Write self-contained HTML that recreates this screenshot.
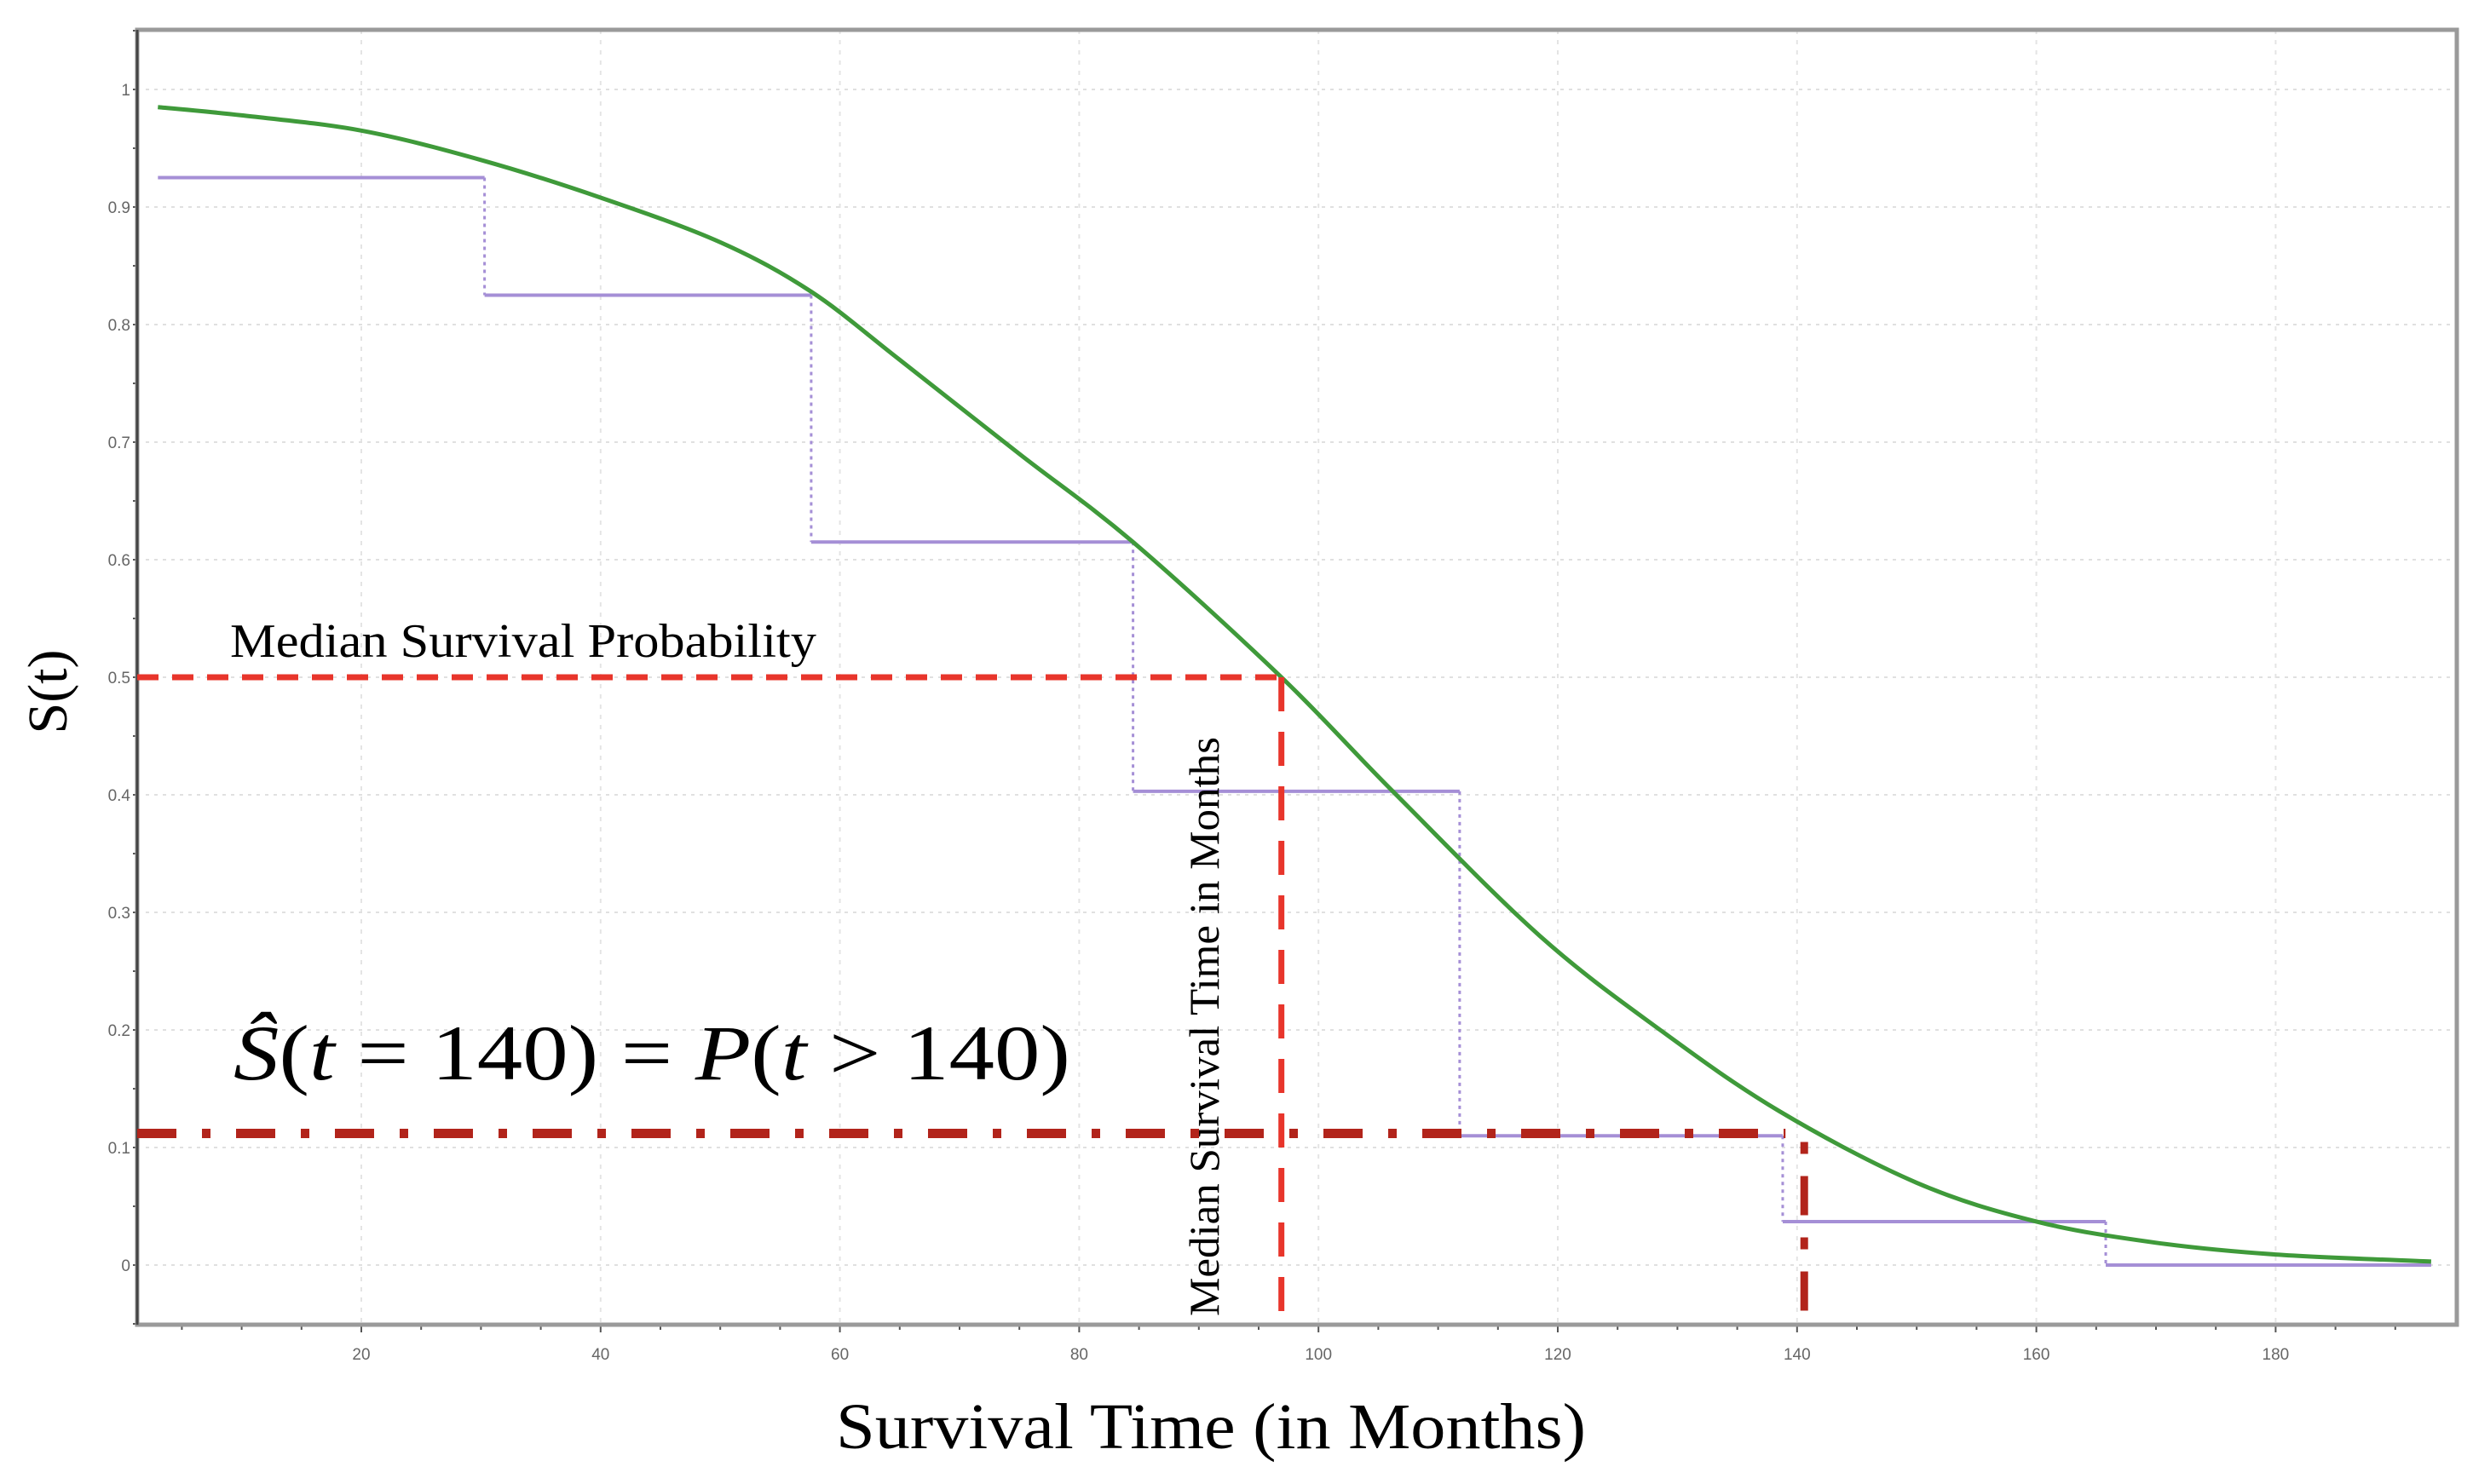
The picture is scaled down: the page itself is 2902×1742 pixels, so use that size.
<!DOCTYPE html>
<html><head><meta charset="utf-8">
<style>
html,body{margin:0;padding:0;background:#fff;}
svg{display:block;}
text{font-family:"Liberation Serif","DejaVu Serif",serif;}
.tick{font-family:"Liberation Sans",sans-serif;font-size:19px;fill:#666;}
</style></head>
<body>
<svg id="chart" width="2902" height="1742" viewBox="0 0 2902 1742" xmlns="http://www.w3.org/2000/svg">
  <rect x="0" y="0" width="2902" height="1742" fill="#fff"/>
  <g id="grid"></g>
  <g id="axes"></g>
  <g id="marks"></g>
  <text x="0" y="0" font-size="66" transform="translate(78,812) rotate(-90)" text-anchor="middle">S(t)</text>
  <text x="981" y="1700" font-size="76" textLength="880" lengthAdjust="spacingAndGlyphs">Survival Time (in Months)</text>
  <text x="270" y="771" font-size="56" textLength="688" lengthAdjust="spacingAndGlyphs">Median Survival Probability</text>
  <text x="0" y="0" font-size="50" transform="translate(1430,1545) rotate(-90)" textLength="680" lengthAdjust="spacingAndGlyphs">Median Survival Time in Months</text>
  <text x="274" y="1267" font-size="92" textLength="982" lengthAdjust="spacingAndGlyphs"><tspan font-style="italic">Ŝ</tspan>(<tspan font-style="italic">t</tspan> = 140) = <tspan font-style="italic">P</tspan>(<tspan font-style="italic">t</tspan> &gt; 140)</text>
</svg>
<script>
const xTicks = [20,40,60,80,100,120,140,160,180];
const yTicks = [0,0.1,0.2,0.3,0.4,0.5,0.6,0.7,0.8,0.9,1];
const yTickLabels = ["0","0.1","0.2","0.3","0.4","0.5","0.6","0.7","0.8","0.9","1"];
const kmTimes = [3,30.3,57.6,84.5,111.8,138.8,165.8,193];
const kmValues = [0.925,0.825,0.615,0.403,0.11,0.037,0];
const curveTimes = [3,10,20,30,40,50,57.6,65,75,84.5,96.9,106.3,118.5,128.7,138.5,150,160,170,180,193];
const curveValues = [0.985,0.978,0.965,0.94,0.908,0.87,0.828,0.77,0.69,0.615,0.5,0.402,0.28,0.199,0.131,0.07,0.037,0.019,0.009,0.003];
const medianTime = [96.9];
const medianProb = [0.5];
const queryTime = [140.6];
const queryProb = [0.112];

const NS='http://www.w3.org/2000/svg';
const X = t => 424 + (t-20)*14.04;
const Y = v => 1485 - v*1380;
const L=161, R=2883, T=35, B=1555;
function mk(tag, attrs, parent){const e=document.createElementNS(NS,tag);for(const k in attrs)e.setAttribute(k,attrs[k]);parent.appendChild(e);return e;}
const grid=document.getElementById('grid'), axes=document.getElementById('axes'), marks=document.getElementById('marks');

xTicks.forEach(t=>{
  const g=mk('line',{x1:X(t),x2:X(t),y1:T,y2:B,stroke:'#e4e4e4','stroke-width':2,'stroke-dasharray':'5 7'},grid);
  
  
  const lb=mk('text',{x:X(t),y:1596,'text-anchor':'middle',class:'tick'},axes);
  lb.textContent=t;
  
  
});
for(let t=5;t<=190;t+=5){
  const tk=mk('line',{x1:X(t),x2:X(t),y1:B,y2:B+(t%20===0?9:6),stroke:'#555','stroke-width':2},axes);
  
  
}
yTicks.forEach((v,i)=>{
  const g=mk('line',{x1:L+10,x2:R,y1:Y(v),y2:Y(v),stroke:'#e0e0e0','stroke-width':2,'stroke-dasharray':'4 6'},grid);
  
  
  const lb=mk('text',{x:153,y:Y(v)+7,'text-anchor':'end',class:'tick'},axes);
  lb.textContent=yTickLabels[i];
  
  
});
for(let v=-0.05;v<=1.1;v+=0.05){
  const tk=mk('line',{x1:L-5,x2:L,y1:Y(v),y2:Y(v),stroke:'#555','stroke-width':2},axes);
  
  
}
const fr=mk('rect',{x:L,y:T,width:R-L,height:B-T,fill:'none',stroke:'#9a9a9a','stroke-width':5},axes);


const yl=mk('line',{x1:L,x2:L,y1:T,y2:B,stroke:'#444','stroke-width':3},axes);



for(let i=0;i<kmValues.length;i++){
  const h=mk('line',{x1:X(kmTimes[i]),x2:X(kmTimes[i+1]),y1:Y(kmValues[i]),y2:Y(kmValues[i]),stroke:'#a58fd6','stroke-width':4},marks);
  
  
  if(i<kmValues.length-1){
    const vt=mk('line',{x1:X(kmTimes[i+1]),x2:X(kmTimes[i+1]),y1:Y(kmValues[i]),y2:Y(kmValues[i+1]),stroke:'#a58fd6','stroke-width':3,'stroke-dasharray':'4 5'},marks);
    
    
  }
}
const P=curveTimes.map((t,i)=>[X(t),Y(curveValues[i])]);
let d='M'+P[0][0].toFixed(1)+' '+P[0][1].toFixed(1);
for(let i=0;i<P.length-1;i++){
  const p0=P[Math.max(0,i-1)],p1=P[i],p2=P[i+1],p3=P[Math.min(P.length-1,i+2)];
  const c1=[p1[0]+(p2[0]-p0[0])/6,p1[1]+(p2[1]-p0[1])/6];
  const c2=[p2[0]-(p3[0]-p1[0])/6,p2[1]-(p3[1]-p1[1])/6];
  d+=' C'+c1[0].toFixed(1)+' '+c1[1].toFixed(1)+' '+c2[0].toFixed(1)+' '+c2[1].toFixed(1)+' '+p2[0].toFixed(1)+' '+p2[1].toFixed(1);
}
const cv=mk('path',{d:d,fill:'none',stroke:'#3f9a3a','stroke-width':5,'stroke-linejoin':'round'},marks);



const mh=mk('line',{x1:L,x2:X(medianTime[0]),y1:Y(medianProb[0]),y2:Y(medianProb[0]),stroke:'#e8352b','stroke-width':7,'stroke-dasharray':'25 16'},marks);


const mv=mk('line',{x1:X(medianTime[0]),x2:X(medianTime[0]),y1:Y(medianProb[0]),y2:B,stroke:'#e8352b','stroke-width':7,'stroke-dasharray':'40 24'},marks);


const qh=mk('line',{x1:L,x2:X(queryTime[0])-22,y1:Y(queryProb[0]),y2:Y(queryProb[0]),stroke:'#b2241b','stroke-width':11,'stroke-dasharray':'46 30 10 30'},marks);


const qv=mk('line',{x1:X(queryTime[0]),x2:X(queryTime[0]),y1:Y(queryProb[0])+10,y2:B,stroke:'#b2241b','stroke-width':9,'stroke-dasharray':'14 26 46 26'},marks);


</script>
</body></html>
